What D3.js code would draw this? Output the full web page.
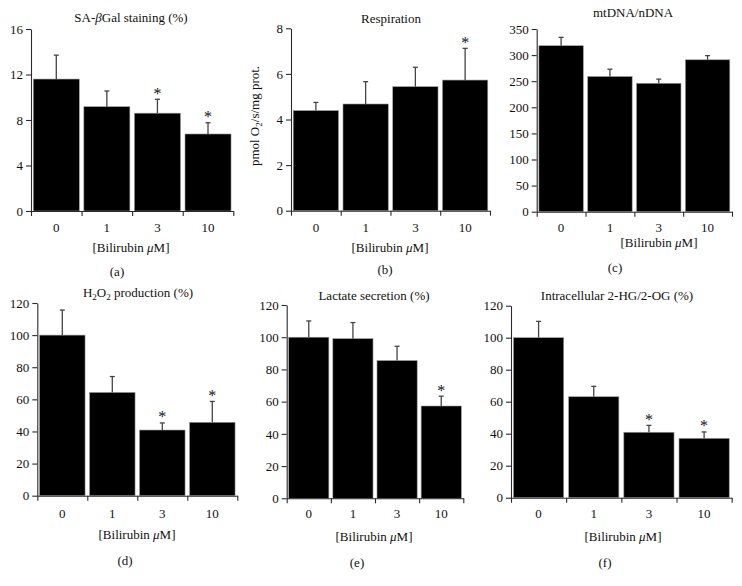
<!DOCTYPE html>
<html>
<head>
<meta charset="utf-8">
<script src="https://cdn.jsdelivr.net/npm/d3@7"></script>
<style>
  html, body { margin: 0; padding: 0; background: #fff; }
  svg { display: block; }
  text { font-family: "Liberation Serif", "DejaVu Serif", serif; fill: #111; }
</style>
</head>
<body>
<svg id="chart" width="742" height="586"></svg>
<script>
// ---------- data ----------
const categories = ["0", "1", "3", "10"];

const sabgalMean = [11.6, 9.17, 8.6, 6.77];
const sabgalErr  = [2.1, 1.38, 1.22, 0.99];
const sabgalSig  = [false, false, true, true];
const sabgalTicks = [0, 4, 8, 12, 16];

const respMean = [4.39, 4.68, 5.44, 5.73];
const respErr  = [0.36, 0.98, 0.85, 1.39];
const respSig  = [false, false, false, true];
const respTicks = [0, 2, 4, 6, 8];

const mtdnaMean = [318, 259, 246, 291];
const mtdnaErr  = [16, 14, 8, 8];
const mtdnaSig  = [false, false, false, false];
const mtdnaTicks = [0, 50, 100, 150, 200, 250, 300, 350];

const h2o2Mean = [100, 64.3, 40.9, 45.7];
const h2o2Err  = [15.6, 9.9, 4.4, 13.0];
const h2o2Sig  = [false, false, true, true];
const h2o2Ticks = [0, 20, 40, 60, 80, 100, 120];

const lactateMean = [100, 99.1, 85.5, 57.3];
const lactateErr  = [10.1, 10.0, 8.9, 6.1];
const lactateSig  = [false, false, false, true];
const lactateTicks = [0, 20, 40, 60, 80, 100, 120];

const hgMean = [100, 63.1, 40.9, 37.1];
const hgErr  = [10.2, 6.5, 4.3, 4.0];
const hgSig  = [false, false, true, true];
const hgTicks = [0, 20, 40, 60, 80, 100, 120];

// ---------- layout ----------
const panels = [
  { mean: sabgalMean, err: sabgalErr, sig: sabgalSig, ticks: sabgalTicks,
    title: [["SA-", null], ["β", "italic"], ["Gal staining (%)", null]],
    x0: 31, x1: 233.3, yTop: 29, yBot: 211,
    titleX: 131, titleY: 22, tickY: 232, axX: 131, axY: 252, letter: "(a)", letX: 117, letY: 276 },
  { mean: respMean, err: respErr, sig: respSig, ticks: respTicks,
    title: [["Respiration", null]],
    x0: 291, x1: 490, yTop: 28.3, yBot: 210.7,
    titleX: 391, titleY: 23, tickY: 232, axX: 390, axY: 252, letter: "(b)", letX: 385, letY: 274,
    ylabel: true, ylabX: 259, ylabY: 116 },
  { mean: mtdnaMean, err: mtdnaErr, sig: mtdnaSig, ticks: mtdnaTicks,
    title: [["mtDNA/nDNA", null]],
    x0: 536.7, x1: 732, yTop: 29, yBot: 211.7,
    titleX: 633, titleY: 17, tickY: 232, axX: 659, axY: 247, letter: "(c)", letX: 615, letY: 272 },
  { mean: h2o2Mean, err: h2o2Err, sig: h2o2Sig, ticks: h2o2Ticks,
    title: "h2o2",
    x0: 37.3, x1: 237.3, yTop: 303, yBot: 495.7,
    titleX: 138, titleY: 297, tickY: 518, axX: 137, axY: 539, letter: "(d)", letX: 125, letY: 565 },
  { mean: lactateMean, err: lactateErr, sig: lactateSig, ticks: lactateTicks,
    title: [["Lactate secretion (%)", null]],
    x0: 286.7, x1: 463.3, yTop: 305, yBot: 498.3,
    titleX: 374, titleY: 300, tickY: 518, axX: 374, axY: 541, letter: "(e)", letX: 357, letY: 567 },
  { mean: hgMean, err: hgErr, sig: hgSig, ticks: hgTicks,
    title: [["Intracellular 2-HG/2-OG (%)", null]],
    x0: 511, x1: 731.7, yTop: 305.7, yBot: 497.7,
    titleX: 617, titleY: 300, tickY: 518, axX: 623, axY: 541, letter: "(f)", letX: 605, letY: 567 }
];

const svg = d3.select("#chart");
const FS = 13;
const axisColor = "#2a2a2a";

panels.forEach(p => {
  const g = svg.append("g");
  const yMax = p.ticks[p.ticks.length - 1];
  const y = d3.scaleLinear().domain([0, yMax]).range([p.yBot, p.yTop]);
  const xb = d3.scaleBand().domain(categories).range([p.x0, p.x1]).padding(0);
  const xl = d3.scaleLinear().domain([0, categories.length]).range([p.x0, p.x1]);
  const inset = xb.bandwidth() * 0.045;

  // bars
  g.selectAll("rect.bar").data(categories).enter().append("rect")
    .attr("class", "bar")
    .attr("x", d => xb(d) + inset)
    .attr("width", xb.bandwidth() - 2 * inset)
    .attr("y", (d, i) => y(p.mean[i]))
    .attr("height", (d, i) => p.yBot - y(p.mean[i]))
    .attr("fill", "#000")
    .attr("stroke", "#9a9a9a")
    .attr("stroke-width", 0.6);

  // error bars (upper only)
  const cx = d => xb(d) + xb.bandwidth() / 2;
  g.selectAll("line.err").data(categories).enter().append("line")
    .attr("x1", cx).attr("x2", cx)
    .attr("y1", (d, i) => y(p.mean[i]))
    .attr("y2", (d, i) => y(p.mean[i] + p.err[i]))
    .attr("stroke", "#444").attr("stroke-width", 1.3);
  g.selectAll("line.cap").data(categories).enter().append("line")
    .attr("x1", d => cx(d) - 2.5).attr("x2", d => cx(d) + 2.5)
    .attr("y1", (d, i) => y(p.mean[i] + p.err[i]))
    .attr("y2", (d, i) => y(p.mean[i] + p.err[i]))
    .attr("stroke", "#444").attr("stroke-width", 1.3);

  // significance stars
  g.selectAll("text.star").data(categories.filter((d, i) => p.sig[i])).enter().append("text")
    .attr("x", cx)
    .attr("y", d => { const i = categories.indexOf(d); return y(p.mean[i] + p.err[i]) - 0.5; })
    .attr("text-anchor", "middle")
    .attr("font-size", 16)
    .attr("fill", "#333")
    .text("*");

  // y axis
  const ya = g.append("g").attr("transform", `translate(${p.x0},0)`)
    .call(d3.axisLeft(y).tickValues(p.ticks).tickSize(5).tickSizeOuter(0).tickPadding(3)
      .tickFormat(d3.format("d")));
  ya.selectAll("path, line").attr("stroke", axisColor).attr("stroke-width", 1.1);
  ya.selectAll("text").attr("font-size", FS).attr("font-family", "Liberation Serif").attr("fill", "#111");

  // x axis boundaries
  const xa = g.append("g").attr("transform", `translate(0,${p.yBot})`)
    .call(d3.axisBottom(xl).tickValues(d3.range(categories.length + 1)).tickSize(5)
      .tickSizeOuter(0).tickFormat(""));
  xa.selectAll("path, line").attr("stroke", axisColor).attr("stroke-width", 1.1);

  // x tick labels
  g.selectAll("text.xlab").data(categories).enter().append("text")
    .attr("x", cx).attr("y", p.tickY)
    .attr("text-anchor", "middle").attr("font-size", FS).text(d => d);

  // title
  const t = g.append("text").attr("x", p.titleX).attr("y", p.titleY)
    .attr("text-anchor", "middle").attr("font-size", FS);
  if (p.title === "h2o2") {
    t.append("tspan").text("H");
    t.append("tspan").attr("font-size", 9).attr("dy", 3).text("2");
    t.append("tspan").attr("dy", -3).text("O");
    t.append("tspan").attr("font-size", 9).attr("dy", 3).text("2");
    t.append("tspan").attr("dy", -3).text(" production (%)");
  } else {
    p.title.forEach(([s, st]) => {
      const ts = t.append("tspan").text(s);
      if (st) ts.attr("font-style", st);
    });
  }

  // axis title
  const ax = g.append("text").attr("x", p.axX).attr("y", p.axY)
    .attr("text-anchor", "middle").attr("font-size", FS);
  ax.append("tspan").text("[Bilirubin ");
  ax.append("tspan").attr("font-style", "italic").text("μ");
  ax.append("tspan").text("M]");

  // panel letter
  g.append("text").attr("x", p.letX).attr("y", p.letY)
    .attr("text-anchor", "middle").attr("font-size", FS).text(p.letter);

  // y label
  if (p.ylabel) {
    const yl = g.append("text")
      .attr("transform", `translate(${p.ylabX},${p.ylabY}) rotate(-90)`)
      .attr("text-anchor", "middle").attr("font-size", FS);
    yl.append("tspan").text("pmol O");
    yl.append("tspan").attr("font-size", 9).attr("dy", 3).text("2");
    yl.append("tspan").attr("dy", -3).text("/s/mg prot.");
  }
});
</script>
</body>
</html>
